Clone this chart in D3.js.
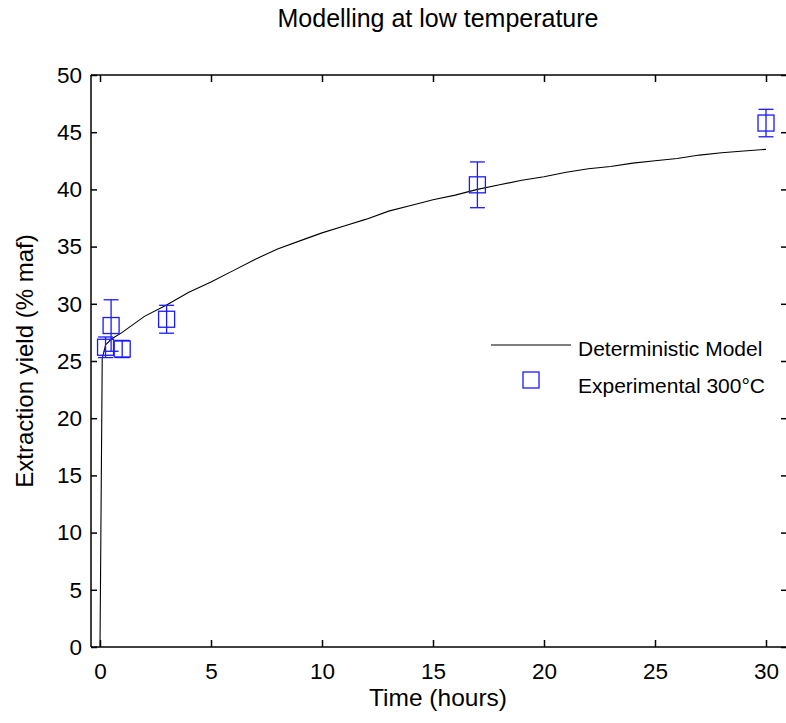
<!DOCTYPE html>
<html><head><meta charset="utf-8">
<script src="https://cdn.jsdelivr.net/npm/d3@7"></script>
<style>body{margin:0;background:#fff}svg{display:block}text{font-family:"Liberation Sans",Arial,sans-serif}</style>
</head><body>
<script>
const modelT = [0,0.1,0.25,0.5,1,2,3,4,5,6,7,8,9,10,11,12,13,14,15,16,17,18,19,20,21,22,23,24,25,26,27,28,29,30];
const modelY = [0,25.2,26.4,26.9,27.5,28.9,29.9,31.0,31.9,32.9,33.9,34.8,35.5,36.2,36.8,37.4,38.1,38.6,39.1,39.5,40.0,40.4,40.8,41.1,41.5,41.8,42.0,42.3,42.5,42.7,43.0,43.2,43.35,43.5];
const expT = [0.25,0.5,1,3,17,30];
const expY = [26.2,28.1,26.05,28.65,40.4,45.8];
const expErr = [0.9,2.25,0.75,1.22,2.0,1.2];
const xTicks = [0,5,10,15,20,25,30];
const yTicks = [0,5,10,15,20,25,30,35,40,45,50];

const W=786,H=723;
const svg=d3.select("body").append("svg").attr("width",W).attr("height",H);
const L=91,R=786,T=75,B=647;
const x=d3.scaleLinear().domain([0,30]).range([100,766]);
const y=d3.scaleLinear().domain([0,50]).range([B,T]);

// frame
svg.append("line").attr("x1",L).attr("x2",L).attr("y1",T).attr("y2",B).attr("stroke","#000").attr("stroke-width",1.5);
svg.append("line").attr("x1",L).attr("x2",R).attr("y1",B).attr("y2",B).attr("stroke","#000").attr("stroke-width",1.5);
svg.append("line").attr("x1",L).attr("x2",R).attr("y1",T).attr("y2",T).attr("stroke","#000").attr("stroke-width",1.5);

// axes via d3
const xAxis=svg.append("g").attr("transform",`translate(0,${B})`)
  .call(d3.axisBottom(x).tickValues(xTicks).tickSize(-7).tickPadding(16).tickFormat(d3.format("d")));
const xTop=svg.append("g").attr("transform",`translate(0,${T})`)
  .call(d3.axisTop(x).tickValues(xTicks).tickSize(-7).tickFormat(""));
const yAxis=svg.append("g").attr("transform",`translate(${L},0)`)
  .call(d3.axisLeft(y).tickValues(yTicks).tickSize(-6).tickPadding(9).tickFormat(d3.format("d")));
const yRight=svg.append("g").attr("transform",`translate(${R},0)`)
  .call(d3.axisRight(y).tickValues(yTicks).tickSize(-5).tickFormat(""));
[xAxis,xTop,yAxis,yRight].forEach(g=>{
  g.select(".domain").remove();
  g.selectAll("line").attr("stroke","#000").attr("stroke-width",1.5);
  g.selectAll("text").attr("font-size",22.5).attr("fill","#000").attr("font-family","Liberation Sans, Arial, sans-serif");
});

// model line
const line=d3.line().x((d,i)=>x(modelT[i])).y(d=>y(d));
svg.append("path").datum(modelY).attr("d",line).attr("fill","none").attr("stroke","#000").attr("stroke-width",1.1);

// error bars and markers
const blue="#1a1aff";
const g=svg.append("g").attr("stroke",blue).attr("stroke-width",1.3).attr("fill","none");
expT.forEach((t,i)=>{
  const cx=x(t), top=y(expY[i]+expErr[i]), bot=y(expY[i]-expErr[i]);
  g.append("line").attr("x1",cx).attr("x2",cx).attr("y1",top).attr("y2",bot);
  g.append("line").attr("x1",cx-7.5).attr("x2",cx+7.5).attr("y1",top).attr("y2",top);
  g.append("line").attr("x1",cx-7.5).attr("x2",cx+7.5).attr("y1",bot).attr("y2",bot);
  g.append("rect").attr("x",cx-8).attr("y",y(expY[i])-8).attr("width",16).attr("height",16);
});

// legend
svg.append("line").attr("x1",491).attr("x2",571).attr("y1",345).attr("y2",345).attr("stroke","#000").attr("stroke-width",1.1);
svg.append("text").attr("x",578).attr("y",356).attr("font-size",21).text("Deterministic Model");
svg.append("rect").attr("x",523).attr("y",372).attr("width",16).attr("height",16).attr("fill","none").attr("stroke",blue).attr("stroke-width",1.3);
svg.append("text").attr("x",578).attr("y",393).attr("font-size",21).text("Experimental 300°C");

// title and labels
svg.append("text").attr("x",438).attr("y",27).attr("text-anchor","middle").attr("font-size",25).text("Modelling at low temperature");
svg.append("text").attr("x",438).attr("y",706).attr("text-anchor","middle").attr("font-size",24.5).text("Time (hours)");
svg.append("text").attr("transform","translate(33,361) rotate(-90)").attr("text-anchor","middle").attr("font-size",24).text("Extraction yield (% maf)");
</script>
</body></html>
